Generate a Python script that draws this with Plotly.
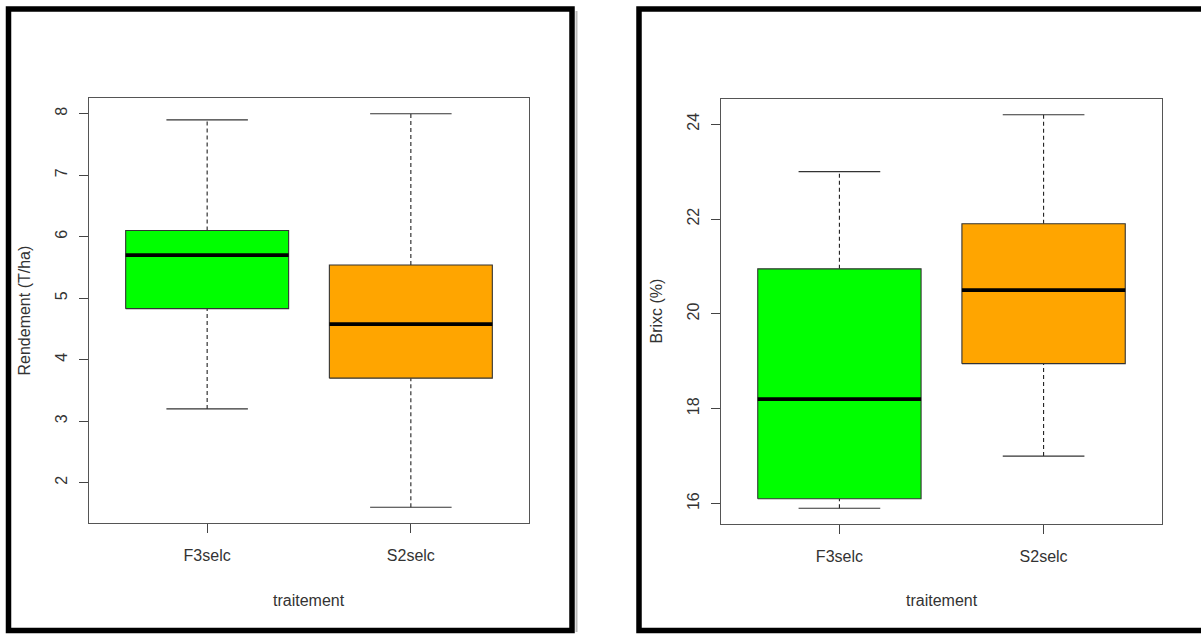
import plotly.graph_objects as go

# ---- data ----
categories = ["F3selc", "S2selc"]
positions = [1, 2]

# Rendement (T/ha): lower whisker, Q1, median, Q3, upper whisker
rend_low = [3.2, 1.6]
rend_q1 = [4.83, 3.7]
rend_med = [5.7, 4.58]
rend_q3 = [6.1, 5.54]
rend_high = [7.9, 8.0]

# Brixc (%)
brix_low = [15.9, 17.0]
brix_q1 = [16.1, 18.95]
brix_med = [18.2, 20.5]
brix_q3 = [20.95, 21.9]
brix_high = [23.0, 24.2]

rend_ticks = [2, 3, 4, 5, 6, 7, 8]
brix_ticks = [16, 18, 20, 22, 24]

box_colors = ["#00FF00", "#FFA500"]

W, H = 1201, 635
FONT = "Liberation Sans, Arial, Helvetica, sans-serif"
TXT = "#333333"

fig = go.Figure()


def add_boxes(low, q1, med, q3, high, xa, ya):
    hw, sw = 0.4, 0.2
    for i, p in enumerate(positions):
        # whiskers (dashed)
        fig.add_trace(go.Scatter(
            x=[p, p, None, p, p], y=[low[i], q1[i], None, q3[i], high[i]],
            mode="lines", line=dict(color="#222222", width=1.1, dash="4px,3px"),
            xaxis=xa, yaxis=ya, hoverinfo="skip", showlegend=False))
        # staples
        fig.add_trace(go.Scatter(
            x=[p - sw, p + sw, None, p - sw, p + sw],
            y=[low[i], low[i], None, high[i], high[i]],
            mode="lines", line=dict(color="#333333", width=1.1),
            xaxis=xa, yaxis=ya, hoverinfo="skip", showlegend=False))
        # box
        fig.add_trace(go.Scatter(
            x=[p - hw, p + hw, p + hw, p - hw, p - hw],
            y=[q1[i], q1[i], q3[i], q3[i], q1[i]],
            mode="lines", fill="toself", fillcolor=box_colors[i],
            line=dict(color="#333333", width=1.1),
            xaxis=xa, yaxis=ya, hoverinfo="skip", showlegend=False))
        # median
        fig.add_trace(go.Scatter(
            x=[p - hw, p + hw], y=[med[i], med[i]],
            mode="lines", line=dict(color="#000000", width=3.8),
            xaxis=xa, yaxis=ya, hoverinfo="skip", showlegend=False))


add_boxes(rend_low, rend_q1, rend_med, rend_q3, rend_high, "x", "y")
add_boxes(brix_low, brix_q1, brix_med, brix_q3, brix_high, "x2", "y2")


def rng(lo, hi):
    d = (hi - lo) * 0.04
    return [lo - d, hi + d]


common_x = dict(
    range=rng(0.5, 2.5), tickvals=positions, ticktext=categories,
    ticks="outside", ticklen=9, tickcolor="#444444", tickwidth=1.1,
    showline=True, mirror=True, linecolor="#555555", linewidth=1.2,
    showgrid=False, zeroline=False, ticklabelstandoff=9,
    tickfont=dict(family=FONT, size=16, color=TXT), fixedrange=True)
common_y = dict(
    ticks="outside", ticklen=9, tickcolor="#444444", tickwidth=1.1,
    showline=True, mirror=True, linecolor="#555555", linewidth=1.2,
    showgrid=False, zeroline=False, tickangle=-90, ticklabelstandoff=6,
    tickfont=dict(family=FONT, size=16, color=TXT), fixedrange=True)

fig.update_layout(
    width=W, height=H,
    margin=dict(l=0, r=0, t=0, b=0),
    paper_bgcolor="white", plot_bgcolor="white",
    showlegend=False,
    xaxis=dict(domain=[89 / W, 529 / W], anchor="y", **common_x),
    yaxis=dict(domain=[1 - 523 / H, 1 - 98 / H], anchor="x",
               range=rng(min(rend_low), max(rend_high)),
               tickvals=rend_ticks, **common_y),
    xaxis2=dict(domain=[721 / W, 1162 / W], anchor="y2", **common_x),
    yaxis2=dict(domain=[1 - 524 / H, 1 - 99 / H], anchor="x2",
                range=rng(min(brix_low), max(brix_high)),
                tickvals=brix_ticks, **common_y),
)

# axis titles
ann = []
for cx in [(89 + 529) / 2, (721 + 1162) / 2]:
    ann.append(dict(x=cx / W, y=1 - 600 / H, xref="paper", yref="paper",
                    text="traitement", showarrow=False,
                    font=dict(family=FONT, size=16, color=TXT),
                    xanchor="center", yanchor="middle"))
ann.append(dict(x=24 / W, y=1 - 310.5 / H, xref="paper", yref="paper",
                text="Rendement (T/ha)", showarrow=False, textangle=-90,
                font=dict(family=FONT, size=16, color=TXT),
                xanchor="center", yanchor="middle"))
ann.append(dict(x=656 / W, y=1 - 311.5 / H, xref="paper", yref="paper",
                text="Brixc (%)", showarrow=False, textangle=-90,
                font=dict(family=FONT, size=16, color=TXT),
                xanchor="center", yanchor="middle"))
fig.update_layout(annotations=ann)

# outer panel frames
shapes = [
    dict(type="rect", xref="paper", yref="paper",
         x0=8.5 / W, x1=572 / W, y0=1 - 630.5 / H, y1=1 - 9 / H,
         line=dict(color="black", width=5.5), layer="above"),
    dict(type="line", xref="paper", yref="paper",
         x0=576.5 / W, x1=576.5 / W, y0=1 - 632 / H, y1=1 - 11 / H,
         line=dict(color="#bbbbbb", width=2), layer="below"),
    dict(type="rect", xref="paper", yref="paper",
         x0=639 / W, x1=1215 / W, y0=1 - 630.5 / H, y1=1 - 9 / H,
         line=dict(color="black", width=5.5), layer="above"),
]
fig.update_layout(shapes=shapes)

fig.write_html(
    "out.html",
    config={"displayModeBar": False},
    post_script="document.body.style.margin='0px';document.body.style.overflow='hidden';",
)
